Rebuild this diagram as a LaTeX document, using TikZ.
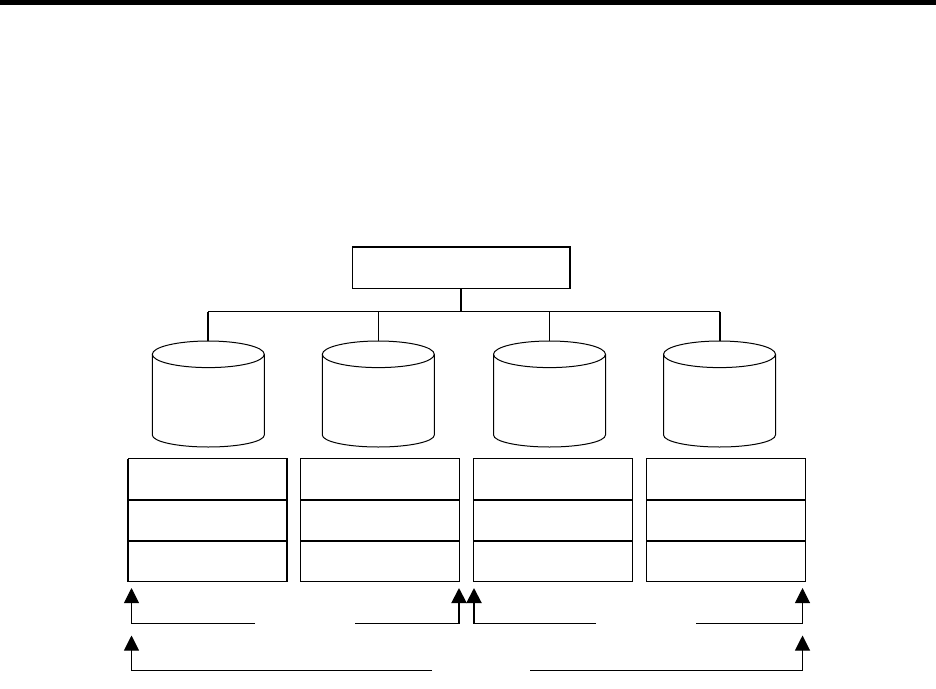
\documentclass[tikz,border=0pt]{standalone}
\usetikzlibrary{arrows.meta}
\tikzset{
	cell/.style={draw, line width=1pt, rectangle, minimum width=159pt, minimum height=41pt, inner sep=0pt, outer sep=0pt},
	drum/.style={rectangle, minimum width=112pt, minimum height=106pt, inner sep=0pt, outer sep=0pt},
	bold/.style={line width=2pt},
	lead/.style={line width=1pt},
	feed/.style={-{Triangle[length=15pt,width=15pt]}}
}
\begin{document}
\begin{tikzpicture}[x=1pt, y=-1pt]
	\useasboundingbox (0,0) rectangle (936,688);
	\fill (0,0) rectangle (936,5);
	\node[draw, line width=1pt, rectangle, minimum width=218pt, minimum height=41.5pt, inner sep=0pt, outer sep=0pt] (head) at (461.4,267.5) {};
	\draw[bold] (head.north west) -- (head.north east) -- (head.south east);
	\coordinate (bus) at (461,311.5);
	\foreach \n/\x in {1/208.3,2/378.3,3/549.5,4/719.5} {
		\node[drum] (db\n) at (\x,394) {};
		\draw[lead] ([yshift=-13.3pt]db\n.north west) arc (180:540:56pt and 13.3pt);
		\draw[lead] ([yshift=-13.3pt]db\n.north west) -- ([yshift=12pt]db\n.south west) arc (180:360:56pt and 12pt) -- ([yshift=-13.3pt]db\n.north east);
	}
	\draw[lead] (db1.north |- bus) -- (db4.north |- bus);
	\draw[bold] (head.south -| bus) -- (bus);
	\draw[bold] (db1.north |- bus) -- (db1.north);
	\draw[lead] (db2.north |- bus) -- (db2.north);
	\draw[lead] (db3.north |- bus) -- (db3.north);
	\draw[bold] (db4.north |- bus) -- (db4.north);
	\foreach \n/\x in {1/207.5,2/380.2,3/553,4/726} {
		\node[cell] (top\n) at (\x,479) {};
		\node[cell] (mid\n) at (\x,520) {};
		\node[cell] (low\n) at (\x,561) {};
		\draw[bold] (top\n.south west) -- (top\n.south east);
		\draw[bold] (mid\n.south west) -- (mid\n.south east);
	}
	\draw[bold] (top1.north west) -- (low1.south west);
	\draw[bold] (top1.north east) -- (low1.south east);
	\coordinate (a1) at (131.5,588);
	\coordinate (a2) at (459,588);
	\coordinate (a3) at (474,588);
	\coordinate (a4) at (802.5,588);
	\coordinate (b1) at (131.5,635.5);
	\coordinate (b4) at (802.5,635.5);
	\coordinate (g1) at (255,623.5);
	\coordinate (g2) at (355,623.5);
	\coordinate (g3) at (596,623.5);
	\coordinate (g4) at (696,623.5);
	\coordinate (g5) at (432,670.5);
	\coordinate (g6) at (530,670.5);
	\draw[lead, feed] (g1) -| (a1);
	\draw[lead] (g2) -- (g2 -| a2);
	\draw[bold, feed] (g2 -| a2) -- (a2);
	\draw[lead] (g3) -- (g3 -| a3);
	\draw[bold, feed] (g3 -| a3) -- (a3);
	\draw[lead, feed] (g4) -| (a4);
	\draw[lead, feed] (g5) -| (b1);
	\draw[lead, feed] (g6) -| (b4);
\end{tikzpicture}
\end{document}
